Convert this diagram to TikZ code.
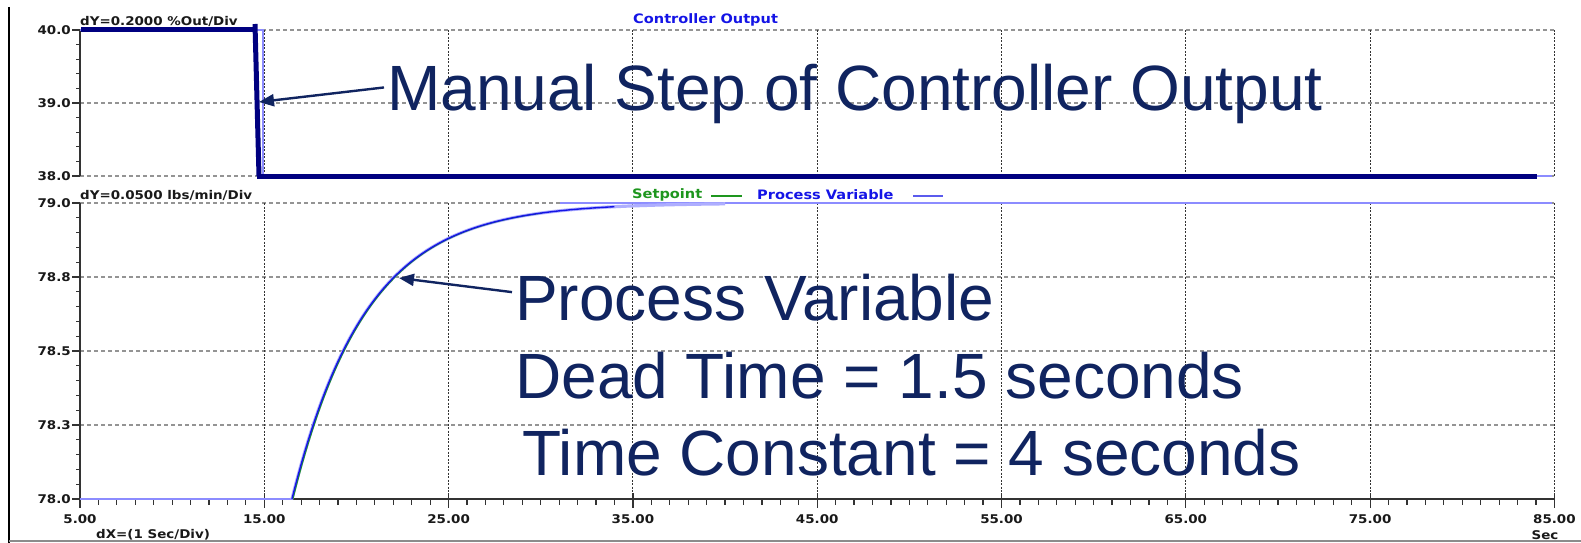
\documentclass[tikz,border=0pt]{standalone}
\usepackage{fontspec}
\setmainfont{Liberation Sans}
\newfontfamily\lblfont{DejaVu Sans}[FakeStretch=1.12]
\usetikzlibrary{arrows.meta}
\definecolor{annot}{RGB}{16,36,96}
\definecolor{conav}{RGB}{0,0,128}
\definecolor{lblue}{RGB}{140,140,255}
\definecolor{cblue}{RGB}{20,20,230}
\definecolor{sgreen}{RGB}{30,150,30}
\begin{document}
\begin{tikzpicture}[x=1pt,y=-1pt,
  hgrid/.style={draw=black!42,line width=1.8pt,dash pattern=on 4pt off 3pt},
  vgrid/.style={draw=black!80,line width=1pt,dash pattern=on 2pt off 1.5pt},
  axisline/.style={draw=black!80,line width=1.3pt},
  tickmark/.style={draw=black!80,line width=1.2pt},
  ticklbl/.style={font=\lblfont\bfseries\fontsize{12}{13}\selectfont,text=black!90,inner sep=0pt},
  titlelbl/.style={font=\lblfont\bfseries\fontsize{13}{14}\selectfont,inner sep=0pt},
  big/.style={font=\fontsize{64}{70}\selectfont,text=annot,inner sep=0pt,anchor=base west},
  callout/.style={draw=annot,line width=2.4pt,-{Triangle[length=15pt,width=12pt]}},
]
\useasboundingbox (0,0) rectangle (1581,543);
\fill[white] (0,0) rectangle (1581,543);
% frame lines
\draw[black,line width=1.5pt] (9,7) -- (9,543);
\draw[black!45,line width=1.2pt] (9,541) -- (1581,541);
% horizontal grid
\foreach \yy in {30,103,176,203,277,351,425}
  \draw[hgrid] (80,\yy) -- (1554,\yy);
% vertical grid
\foreach \t in {15,25,...,85} {
  \pgfmathsetmacro\xx{80+(\t-5)*18.43}
  \draw[vgrid] (\xx,30) -- (\xx,176);
  \draw[vgrid] (\xx,203) -- (\xx,499);
}
% y axes
\draw[axisline] (80,30) -- (80,176);
\draw[axisline] (80,203) -- (80,499);
\foreach \i in {0,...,10} \draw[tickmark] (76,{30+\i*14.6}) -- (80,{30+\i*14.6});
\foreach \i in {0,...,20} \draw[tickmark] (76,{203+\i*14.8}) -- (80,{203+\i*14.8});
\foreach \yy in {30,103,176,203,277,351,425,499} \draw[tickmark] (72,\yy) -- (80,\yy);
% x axis
\draw[axisline] (80,499) -- (1554,499);
\foreach \i in {0,...,80} \draw[tickmark] ({80+\i*18.43},499) -- ({80+\i*18.43},505);
\foreach \i in {0,...,8} \draw[tickmark] ({80+\i*184.3},493) -- ({80+\i*184.3},508);
% y labels
\foreach \yy/\v in {30/40.0,103/39.0,176/38.0,203/79.0,277/78.8,351/78.5,425/78.3,499/78.0}
  \node[ticklbl,anchor=east] (yl\yy) at (71,\yy) {\v};
% x labels
\foreach \i/\v in {0/5.00,1/15.00,2/25.00,3/35.00,4/45.00,5/55.00,6/65.00,7/75.00,8/85.00}
  \node[ticklbl,anchor=center] (xl\i) at ({80+\i*184.3},519) {\v};
\node[ticklbl,anchor=west] (dx) at (96,535) {dX=(1 Sec/Div)};
\node[ticklbl,anchor=center] (sec) at (1545,535) {Sec};
\node[ticklbl,anchor=west] (dy1) at (80,21) {dY=0.2000 \%Out/Div};
\node[ticklbl,anchor=west] (dy2) at (80,195) {dY=0.0500 lbs/min/Div};
% titles / legend
\node[titlelbl,text=cblue,anchor=west] (cotitle) at (633,20) {Controller Output};
\node[titlelbl,text=sgreen,anchor=west] (sptitle) at (632,195) {Setpoint};
\draw[sgreen,line width=1.2pt] (711,196) -- (742,196);
\node[titlelbl,text=cblue,anchor=west] (pvtitle) at (757,195) {Process Variable};
\draw[cblue!70,line width=1.2pt] (913,196) -- (943,196);
% controller output
\draw[lblue,line width=1.2pt] (80,30) -- (263,30) -- (263,176) -- (1552,176);
\draw[conav,line width=5pt] (81,30) -- (255,30);
\draw[conav,line width=5pt] (255,24) -- (259,176);
\draw[conav,line width=5pt,line cap=butt] (257,176) -- (1537,176);
% process variable
\draw[lblue,line width=2pt] (80,499) -- (293,499);
\draw[lblue,line width=2pt] (560,203) -- (1552,203);
\draw[lblue!70,line width=3.2pt] plot[domain=16.5:40,samples=100] ({80+(\x-5)*18.43},{499-296*(1-exp(-(\x-16.5)/4))});
\draw[sgreen,line width=1.1pt,xshift=1pt] plot[domain=16.5:30,samples=80] ({80+(\x-5)*18.43},{499-296*(1-exp(-(\x-16.5)/4))});
\draw[cblue,line width=1.4pt] plot[domain=16.5:34,samples=100] ({80+(\x-5)*18.43},{499-296*(1-exp(-(\x-16.5)/4))});
% annotations
\node[big] (msg) at (387,110) {Manual Step of Controller Output};
\node[big] (pv) at (515,320) {Process Variable};
\node[big] (dt) at (515,398) {Dead Time = 1.5 seconds};
\node[big] (tc) at (522,475) {Time Constant = 4 seconds};
\coordinate (steptip) at (259,102);
\coordinate (pvtip) at (399,278);
\draw[callout] ([xshift=-3pt,yshift=6pt]msg.west) -- (steptip);
\draw[callout] ([xshift=-3pt,yshift=5pt]pv.west) -- (pvtip);
\end{tikzpicture}
\end{document}
